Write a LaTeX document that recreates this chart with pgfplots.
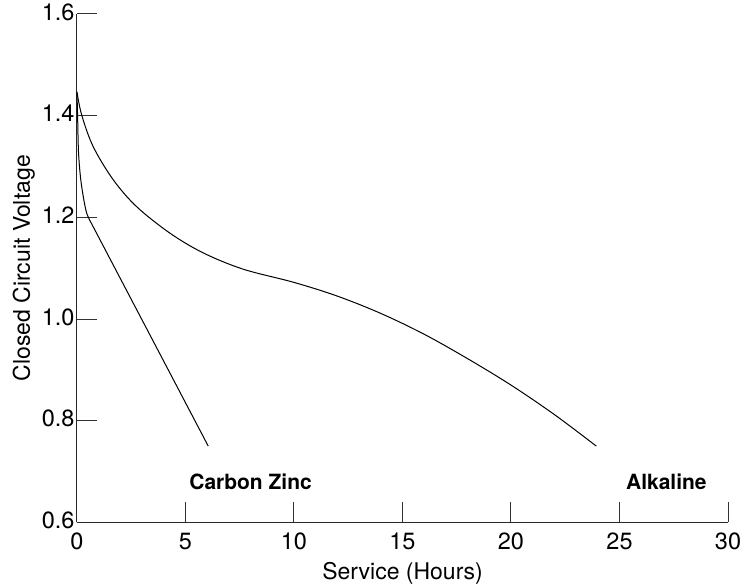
\documentclass[border=0pt]{standalone}
\usepackage{pgfplots}
\pgfplotsset{compat=1.18}
\usepackage{fontspec}
\setmainfont{TeX Gyre Heros}
\usetikzlibrary{calc}
\begin{document}
\begin{tikzpicture}
\begin{axis}[
  scale only axis,
  width=651.5pt, height=508.7pt,
  xmin=0, xmax=30, ymin=0.6, ymax=1.6,
  axis x line*=bottom, axis y line*=left,
  axis line style={line width=1.1pt, black!85},
  tick align=inside,
  major tick length=20pt,
  tick style={line width=1pt, black!80},
  xtick={0,5,...,30},
  ytick={0.6,0.8,...,1.6},
  /pgf/number format/assume math mode=true,
  /pgf/number format/fixed, /pgf/number format/fixed zerofill,
  yticklabel style={/pgf/number format/precision=1, xshift=1pt, yshift=2pt},
  xticklabel style={/pgf/number format/precision=0, yshift=-7pt},
  ticklabel style={font=\fontsize{23.5}{26}\selectfont},
  label style={font=\fontsize{23}{26}\selectfont},
  xlabel style={yshift=-6pt},
  xlabel={Service (Hours)},
  ylabel={Closed Circuit Voltage},
  clip=false,
]
% Alkaline
\addplot[line width=1pt, black, smooth, tension=0.55] coordinates {
 (0,1.447) (0.22,1.401) (0.75,1.339) (1.67,1.274) (2.75,1.221) (4.28,1.169)
 (5.82,1.130) (7.66,1.098) (10.0,1.072) (12.0,1.045) (14.0,1.011)
 (16.0,0.970) (18.0,0.922) (20.0,0.870) (22.0,0.812) (23.93,0.750)
};
% Carbon Zinc
\addplot[line width=1pt, black, smooth, tension=0.5] coordinates {
 (0,1.445) (0.03,1.40) (0.07,1.33) (0.16,1.28) (0.29,1.241) (0.45,1.208) (0.68,1.187)
};
\addplot[line width=1pt, black] coordinates {(0.68,1.187) (6.05,0.75)};
\node[font=\fontsize{21}{24}\selectfont\bfseries] at (axis cs:8.0,0.679) {Carbon Zinc};
\node[font=\fontsize{21}{24}\selectfont\bfseries] at (axis cs:27.16,0.679) {Alkaline};
\end{axis}
\pgfresetboundingbox
\path ($(current axis.south west)+(-77pt,-65pt)$) rectangle ($(current axis.north east)+(19pt,14pt)$);
\end{tikzpicture}
\end{document}
